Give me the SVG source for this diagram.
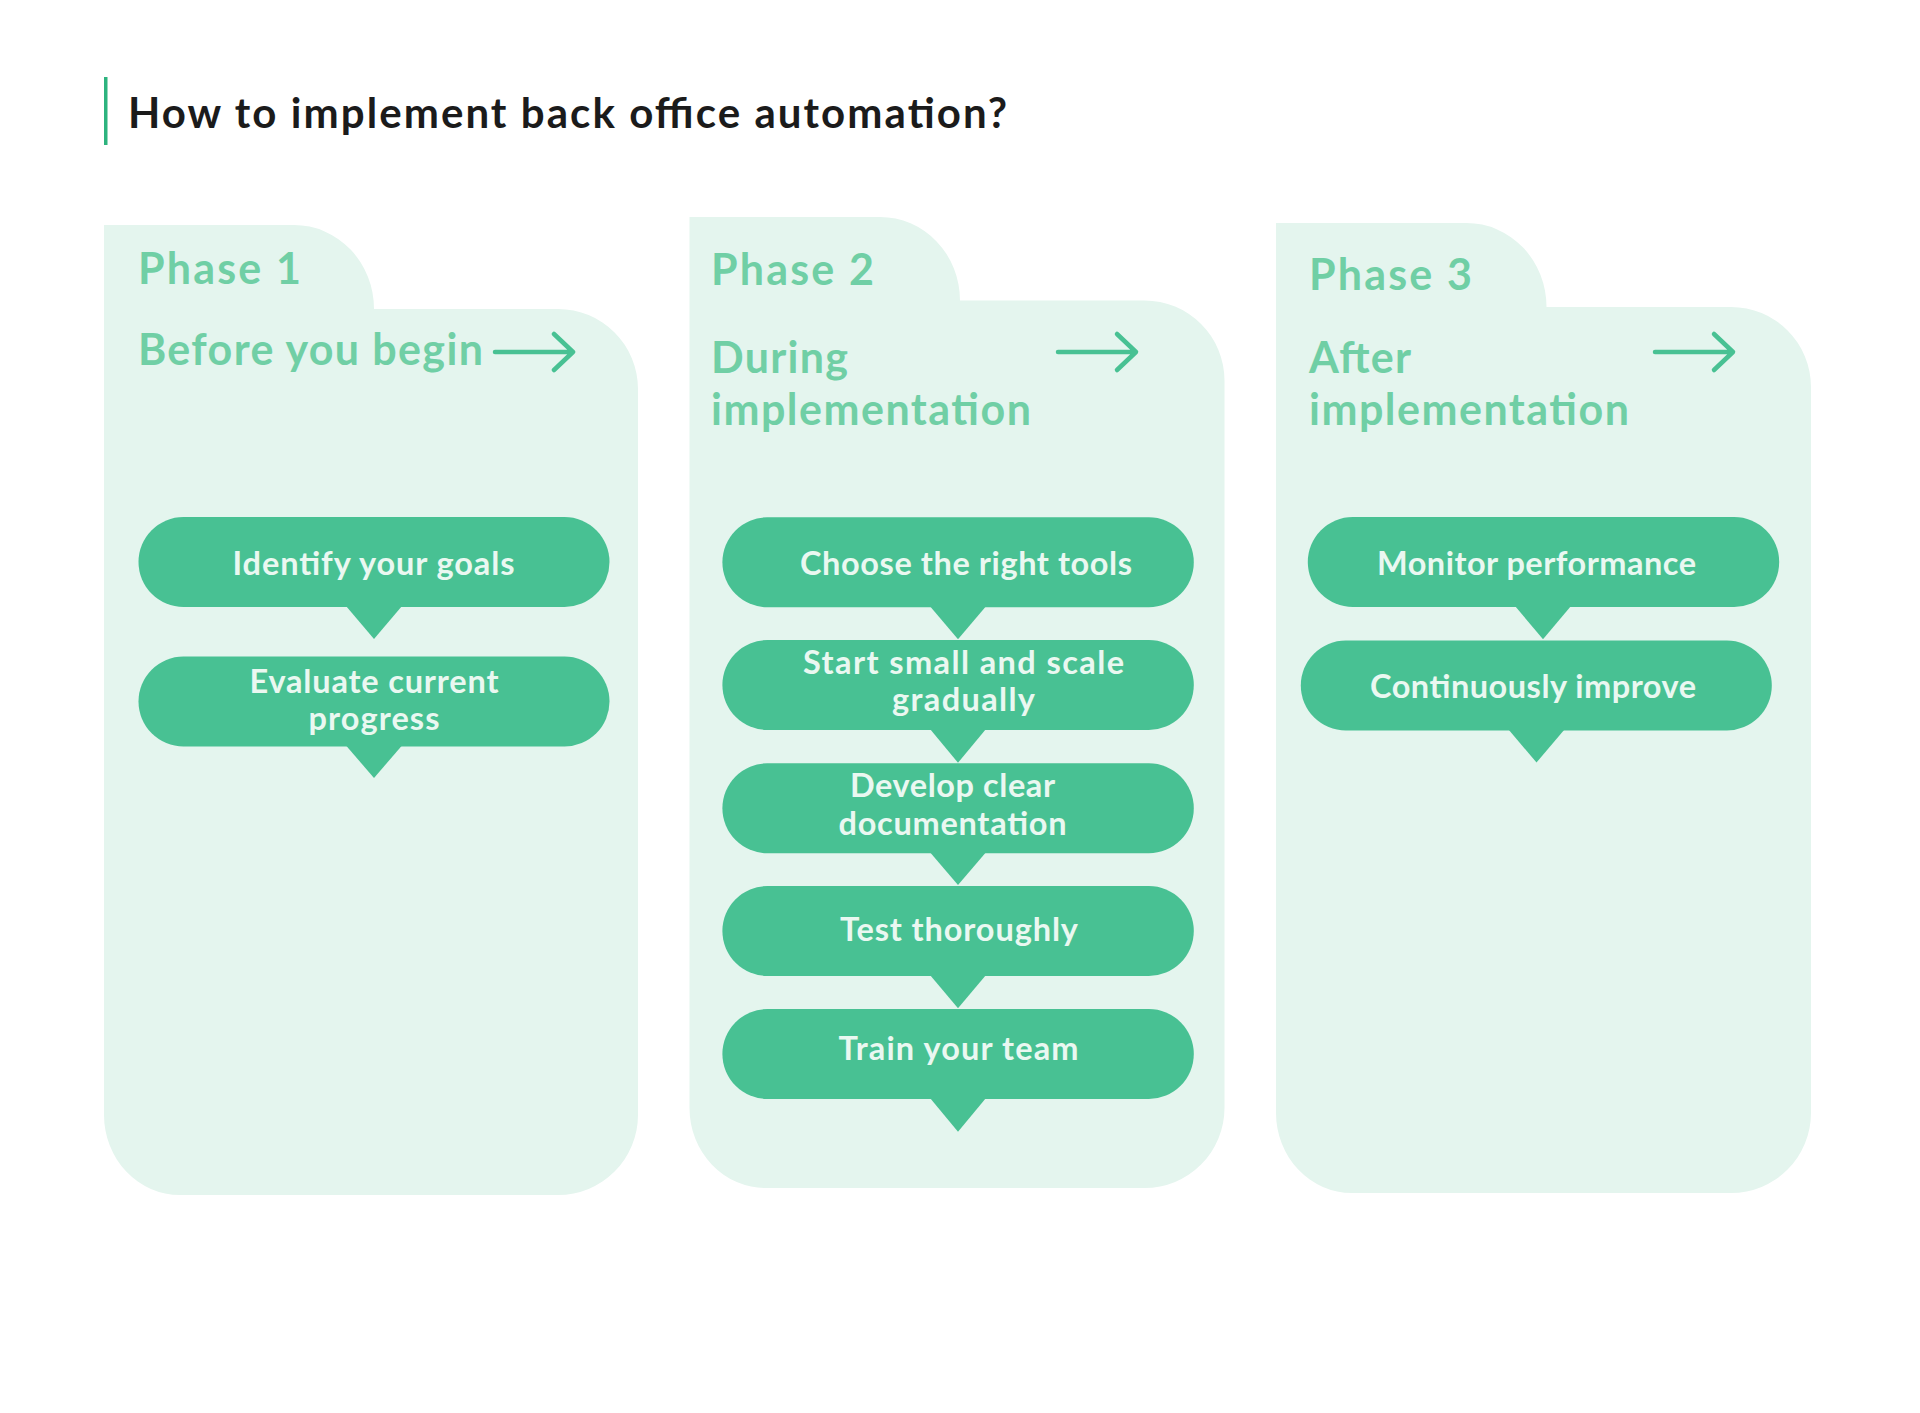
<svg xmlns="http://www.w3.org/2000/svg" width="1920" height="1413" viewBox="0 0 1920 1413">
<style>
.title{font-family:Lato,"Liberation Sans",sans-serif;font-weight:700;font-size:42px;fill:#1b1b1b}
.phase{font-family:Lato,"Liberation Sans",sans-serif;font-weight:700;font-size:43px;fill:#70cfa5}
.panel{fill:#e4f5ee}
.pill{fill:#48c193}
.ptr{fill:#48c193}
.ptxt{font-family:Lato,"Liberation Sans",sans-serif;font-weight:700;font-size:32.5px;fill:#eaf8f1}
.arr{fill:none;stroke:#48c193;stroke-width:4.5;stroke-linecap:round;stroke-linejoin:round}
</style>
<rect width="1920" height="1413" fill="#ffffff"/>
<g id="title">
<rect x="104" y="77" width="3.5" height="68" fill="#2db37e"/>
<text class="title" x="128" y="128" textLength="879">How to implement back office automation?</text>
</g>
<g id="phase1">
<path class="panel" d="M104,225 H294 A80,84 0 0 1 374,309 H558 A80,80 0 0 1 638,389 V1115 A80,80 0 0 1 558,1195 H180 A76,80 0 0 1 104,1115 Z"/>
<text class="phase" x="138" y="284" textLength="163">Phase 1</text>
<text class="phase" x="138" y="365" textLength="345">Before you begin</text>
</g>
<g id="phase2">
<path class="panel" d="M689.5,217 H880 A80,83.5 0 0 1 960,300.5 H1144.5 A80,80 0 0 1 1224.5,380.5 V1108 A80,80 0 0 1 1144.5,1188 H766 A76,80 0 0 1 689.5,1108 Z"/>
<text class="phase" x="711" y="285" textLength="163">Phase 2</text>
<text class="phase" x="711" y="373" textLength="137">During</text>
<text class="phase" x="711" y="425" textLength="320">implementation</text>
</g>
<g id="phase3">
<path class="panel" d="M1276,223 H1466.5 A80,84 0 0 1 1546.5,307 H1731 A80,80 0 0 1 1811,387 V1113 A80,80 0 0 1 1731,1193 H1352 A76,80 0 0 1 1276,1113 Z"/>
<text class="phase" x="1309" y="290" textLength="163">Phase 3</text>
<text class="phase" x="1309" y="373" textLength="102">After</text>
<text class="phase" x="1309" y="425" textLength="320">implementation</text>
</g>
<g id="connectors">
<path class="arr" d="M495,352 H573 M554,334 L573,352 L554,370"/>
<path class="arr" d="M1058,352 H1136 M1117,334 L1136,352 L1117,370"/>
<path class="arr" d="M1655,352 H1733 M1714,334 L1733,352 L1714,370"/>
<polygon class="ptr" points="346,606 402,606 374,639"/>
<polygon class="ptr" points="346,745.5 402,745.5 374,778"/>
<polygon class="ptr" points="930,606.3 986,606.3 958,639.3"/>
<polygon class="ptr" points="930,729 986,729 958,762.7"/>
<polygon class="ptr" points="930,852.3 986,852.3 958,885"/>
<polygon class="ptr" points="930,975 986,975 958,1008.3"/>
<polygon class="ptr" points="930,1098 986,1098 958,1131.7"/>
<polygon class="ptr" points="1515,606 1571,606 1543,639.3"/>
<polygon class="ptr" points="1508.5,729.5 1564.5,729.5 1536.5,762.5"/>
</g>
<g id="step-identify-goals">
<rect class="pill" x="138.5" y="517" width="471" height="90" rx="45"/>
<text class="ptxt" x="232.5" y="575" textLength="282">Identify your goals</text>
</g>
<g id="step-evaluate-progress">
<rect class="pill" x="138.5" y="656.5" width="471" height="90" rx="45"/>
<text class="ptxt" x="249.5" y="692.7" textLength="249">Evaluate current</text>
<text class="ptxt" x="308.5" y="730" textLength="131">progress</text>
</g>
<g id="step-choose-tools">
<rect class="pill" x="722.4" y="517.3" width="471.4" height="90" rx="45"/>
<text class="ptxt" x="800" y="575" textLength="332">Choose the right tools</text>
</g>
<g id="step-start-small">
<rect class="pill" x="722.4" y="640" width="471.4" height="90" rx="45"/>
<text class="ptxt" x="803" y="674" textLength="321">Start small and scale</text>
<text class="ptxt" x="892" y="710.7" textLength="143">gradually</text>
</g>
<g id="step-documentation">
<rect class="pill" x="722.4" y="763.3" width="471.4" height="90" rx="45"/>
<text class="ptxt" x="850" y="796.7" textLength="205">Develop clear</text>
<text class="ptxt" x="838.5" y="835" textLength="228">documentation</text>
</g>
<g id="step-test">
<rect class="pill" x="722.4" y="886" width="471.4" height="90" rx="45"/>
<text class="ptxt" x="840" y="941" textLength="238">Test thoroughly</text>
</g>
<g id="step-train">
<rect class="pill" x="722.4" y="1009" width="471.4" height="90" rx="45"/>
<text class="ptxt" x="838.5" y="1060" textLength="240">Train your team</text>
</g>
<g id="step-monitor">
<rect class="pill" x="1307.8" y="517" width="471.4" height="90" rx="45"/>
<text class="ptxt" x="1377" y="575" textLength="319">Monitor performance</text>
</g>
<g id="step-improve">
<rect class="pill" x="1300.8" y="640.5" width="471" height="90" rx="45"/>
<text class="ptxt" x="1370" y="697.7" textLength="326">Continuously improve</text>
</g>
</svg>
